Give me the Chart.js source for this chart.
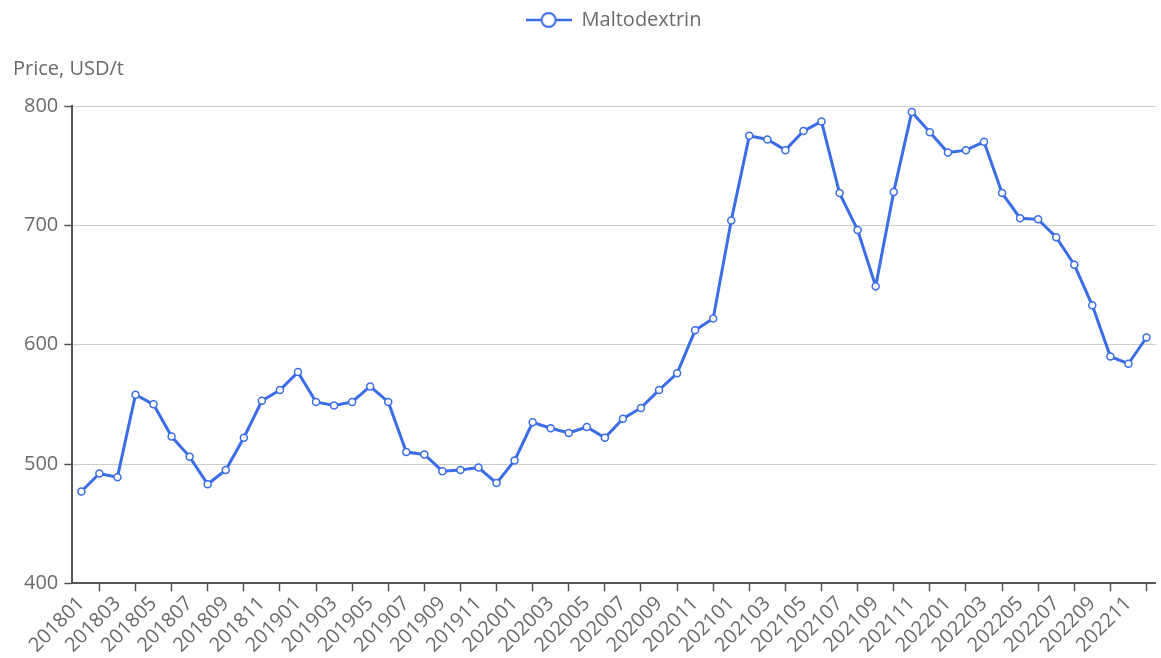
<!DOCTYPE html>
<html>
<head>
<meta charset="utf-8">
<title>Maltodextrin price</title>
<script src="https://cdn.jsdelivr.net/npm/chart.js@4.4.1/dist/chart.umd.min.js"></script>
<style>
  html, body { margin: 0; padding: 0; background: #fff; }
  canvas { display: block; }
</style>
</head>
<body>
<canvas id="priceChart" width="1161" height="658"></canvas>
<script>
const seriesName = 'Maltodextrin';
const axisTitle = 'Price, USD/t';

const months = [
  '201801', '201802', '201803', '201804', '201805', '201806', '201807', '201808', '201809', '201810', '201811', '201812',
  '201901', '201902', '201903', '201904', '201905', '201906', '201907', '201908', '201909', '201910', '201911', '201912',
  '202001', '202002', '202003', '202004', '202005', '202006', '202007', '202008', '202009', '202010', '202011', '202012',
  '202101', '202102', '202103', '202104', '202105', '202106', '202107', '202108', '202109', '202110', '202111', '202112',
  '202201', '202202', '202203', '202204', '202205', '202206', '202207', '202208', '202209', '202210', '202211', '202212'
];

// monthly price, USD per tonne
const prices = [
  477, 492, 489, 558, 550, 523, 506, 483, 495, 522, 553, 562,
  577, 552, 549, 552, 565, 552, 510, 508, 494, 495, 497, 484,
  503, 535, 530, 526, 531, 522, 538, 547, 562, 576, 612, 622,
  704, 775, 772, 763, 779, 787, 727, 696, 649, 728, 795, 778,
  761, 763, 770, 727, 706, 705, 690, 667, 633, 590, 584, 606
];

const yTicks = [400, 500, 600, 700, 800];

const lineColor = '#3b6de8';
const textColor = '#6a6a6a';
const axisColor = '#555';

Chart.defaults.font.family = '"Open Sans", "Noto Sans", sans-serif';
Chart.defaults.font.size = 20;
Chart.defaults.color = textColor;

// legend symbol: short line with a hollow circle in the middle
function legendMarker(color) {
  const c = document.createElement('canvas');
  c.width = 46;
  c.height = 20;
  const g = c.getContext('2d');
  g.strokeStyle = color;
  g.lineWidth = 2.5;
  g.beginPath();
  g.moveTo(0, 10);
  g.lineTo(46, 10);
  g.stroke();
  g.beginPath();
  g.arc(23, 10, 7, 0, Math.PI * 2);
  g.fillStyle = '#fff';
  g.fill();
  g.lineWidth = 2;
  g.stroke();
  return c;
}
const marker = legendMarker(lineColor);

// extra room under the legend for the axis name, and nudge the legend right
const legendSpacing = {
  id: 'legendSpacing',
  beforeInit(chart) {
    const fit = chart.legend.fit;
    chart.legend.fit = function () {
      fit.call(this);
      this.height += 66;
    };
  },
  afterLayout(chart) {
    chart.legend.left += 48;
  }
};

// axis name above the value axis
const axisName = {
  id: 'axisName',
  afterDraw(chart) {
    const ctx = chart.ctx;
    ctx.save();
    ctx.font = '20px "Open Sans", "Noto Sans", sans-serif';
    ctx.fillStyle = textColor;
    ctx.textAlign = 'left';
    ctx.textBaseline = 'alphabetic';
    ctx.fillText(axisTitle, 13, chart.chartArea.top - 31);
    ctx.restore();
  }
};

new Chart(document.getElementById('priceChart'), {
  type: 'line',
  data: {
    labels: months,
    datasets: [{
      label: seriesName,
      data: prices,
      borderColor: lineColor,
      borderWidth: 3,
      backgroundColor: '#fff',
      pointBackgroundColor: '#fff',
      pointBorderColor: lineColor,
      pointBorderWidth: 1.5,
      pointRadius: 3.5,
      tension: 0,
      fill: false
    }]
  },
  options: {
    responsive: false,
    animation: false,
    layout: {
      padding: { top: 0, left: 18, right: 0, bottom: 0 }
    },
    plugins: {
      legend: {
        position: 'top',
        labels: {
          usePointStyle: true,
          pointStyleWidth: 46,
          padding: 10,
          color: textColor,
          font: { size: 20 },
          generateLabels(chart) {
            const items = Chart.defaults.plugins.legend.labels.generateLabels(chart);
            items.forEach(item => { item.pointStyle = marker; });
            return items;
          }
        }
      },
      tooltip: { enabled: false }
    },
    scales: {
      x: {
        offset: true,
        grid: {
          drawOnChartArea: false,
          offset: false,
          tickLength: 8,
          tickWidth: 1.5,
          tickColor: ctx => (ctx.index % 2 ? axisColor : 'transparent')
        },
        border: { color: axisColor, width: 2 },
        ticks: {
          autoSkip: false,
          minRotation: 45,
          maxRotation: 45,
          padding: 2,
          color: textColor,
          // every other month is labelled; the unlabelled ones take no room
          font: ctx => ({ size: 20, lineHeight: ctx.index % 2 ? 0 : 1 }),
          callback(value, index) {
            return index % 2 ? '' : this.getLabelForValue(value);
          }
        }
      },
      y: {
        min: 400,
        max: 800,
        afterBuildTicks(axis) {
          axis.ticks = yTicks.map(v => ({ value: v }));
        },
        grid: {
          color: '#cccccc',
          lineWidth: 1,
          tickLength: 8,
          tickColor: axisColor,
          tickWidth: 1.5
        },
        border: { color: axisColor, width: 2 },
        ticks: {
          padding: 6,
          color: textColor,
          font: { size: 20 }
        }
      }
    }
  },
  plugins: [legendSpacing, axisName]
});
</script>
</body>
</html>
